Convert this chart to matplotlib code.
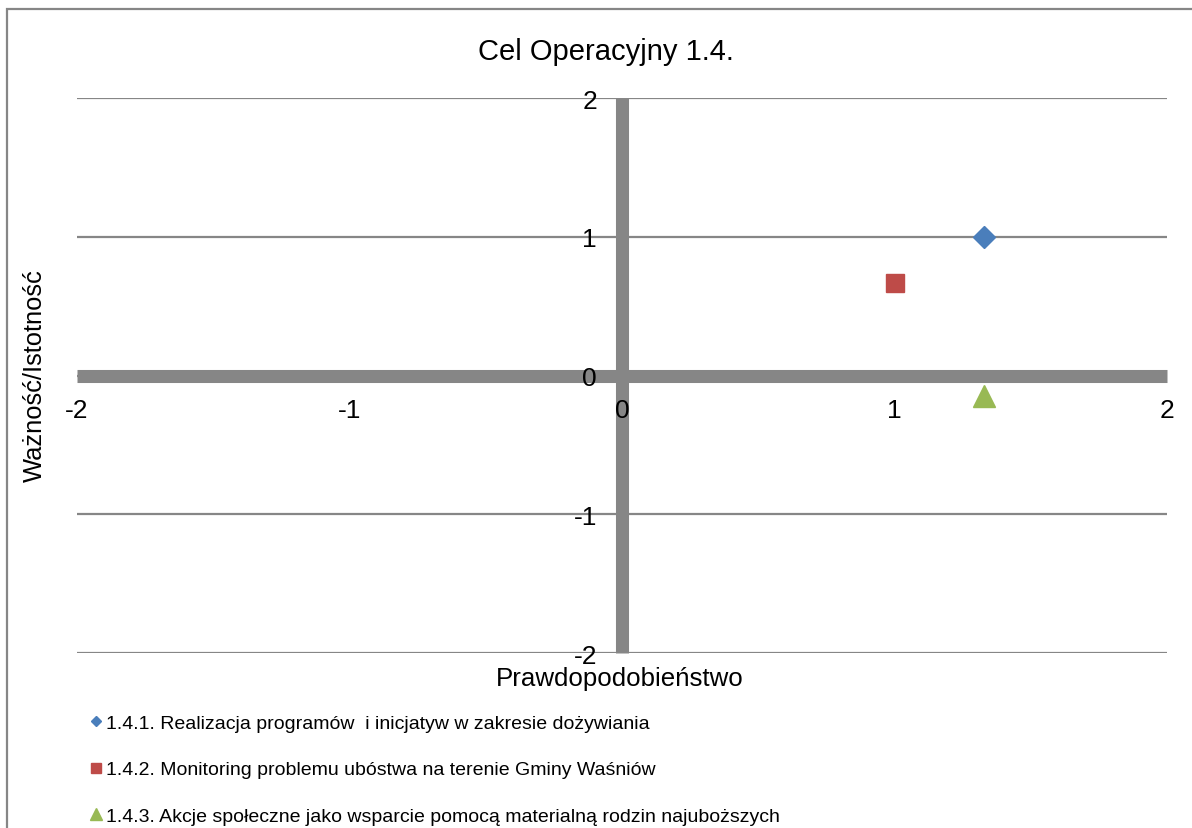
import matplotlib.pyplot as plt
from matplotlib.lines import Line2D
from matplotlib.patches import Rectangle

plt.rcParams["font.family"] = ["Liberation Sans", "DejaVu Sans"]

# data
labels = [
    "1.4.1. Realizacja programów  i inicjatyw w zakresie dożywiania",
    "1.4.2. Monitoring problemu ubóstwa na terenie Gminy Waśniów",
    "1.4.3. Akcje społeczne jako wsparcie pomocą materialną rodzin najuboższych",
]
prob = [1.33, 1.0, 1.33]
importance = [1.0, 0.67, -0.15]
markers = ["D", "s", "^"]
sizes = [10.7, 13.5, 15.5]
legend_sizes = [5.5, 7.0, 8.0]
colors = ["#4A7EBB", "#BE4B48", "#98B954"]
ticks = [-2, -1, 0, 1, 2]

fig = plt.figure(figsize=(11.92, 8.29), dpi=100)
ax = fig.add_axes([77 / 1192, 1 - 654 / 829, (1167 - 77) / 1192, (654 - 99) / 829])

for x, y, m, s, c in zip(prob, importance, markers, sizes, colors):
    ax.plot([x], [y], marker=m, ms=s, color=c, mec=c, ls="none", zorder=4)

ax.set_xlim(-2, 2)
ax.set_ylim(-2, 2)
ax.set_xticks(ticks)
ax.set_yticks(ticks)
ax.set_xticklabels([str(t) for t in ticks])
ax.set_yticklabels([str(t) for t in ticks])

for side in ["top", "right"]:
    ax.spines[side].set_visible(False)
for side in ["left", "bottom"]:
    sp = ax.spines[side]
    sp.set_position(("data", 0))
    sp.set_color("#868686")
    sp.set_linewidth(9.4)
    sp.set_capstyle("butt")
    sp.set_zorder(0.4)

ax.set_axisbelow(True)
ax.yaxis.grid(True, color="#868686", lw=1.6)
ax.tick_params(axis="both", length=0, labelsize=19, colors="black")
ax.tick_params(axis="y", pad=18)
ax.tick_params(axis="x", pad=16)

fig.text(606 / 1192, 1 - 52 / 829, "Cel Operacyjny 1.4.", ha="center", va="center", fontsize=21)
fig.text(620 / 1192, 1 - 679 / 829, "Prawdopodobieństwo", ha="center", va="center", fontsize=18.6)
fig.text(35 / 1192, 1 - 376 / 829, "Ważność/Istotność", ha="center", va="center",
         rotation=90, fontsize=18.4)

handles = [Line2D([], [], marker=m, ms=s, color=c, ls="none")
           for m, s, c in zip(markers, legend_sizes, colors)]
fig.legend(handles, labels, loc="upper left", bbox_to_anchor=(91 / 1192, 1 - 715 / 829),
           frameon=False, fontsize=14, handlelength=0.55, handletextpad=0.2,
           labelspacing=1.5, borderaxespad=0, borderpad=0)

fig.add_artist(Rectangle((7 / 1192, -0.1), 1.2, 1.1 - 10 / 829, transform=fig.transFigure,
                         fill=False, ec="#868686", lw=1.6, clip_on=False))

fig.savefig("out.png", dpi=100)
